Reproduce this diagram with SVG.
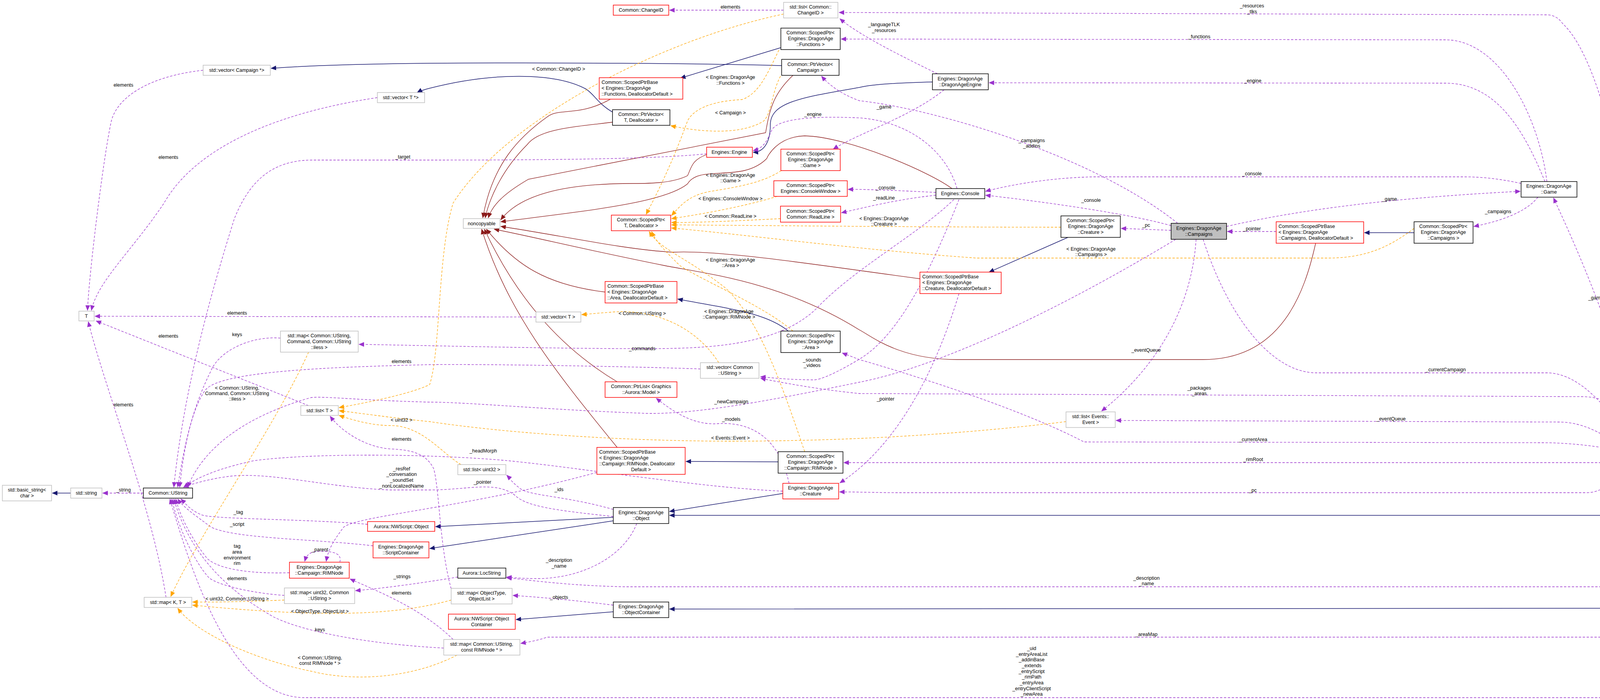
<svg xmlns="http://www.w3.org/2000/svg" width="4277" height="1793" viewBox="0 0 4277 1793">
<style>
text{font-family:"Liberation Sans",Arial,sans-serif;font-size:12.5px;fill:#000}
.c{text-anchor:middle}
.n rect{fill:#fff;stroke-width:1.5}
.blk rect{stroke:#000}
.red rect{stroke:#ff0000}
.gry rect{stroke:#bfbfbf}
.sel rect{fill:#bfbfbf;stroke:#000}
.e path{fill:none}
.pu{stroke:#9a32cd;stroke-width:1.3;stroke-dasharray:6,4;marker-end:url(#mp)}
.or{stroke:#ffa500;stroke-width:1.3;stroke-dasharray:6,4;marker-end:url(#mo)}
.bl{stroke:#191970;stroke-width:1.5;marker-end:url(#mb)}
.br{stroke:#8b1a1a;stroke-width:1.3;marker-end:url(#mr)}
</style>
<defs>
<marker id="mp" markerUnits="userSpaceOnUse" markerWidth="14" markerHeight="12" refX="13" refY="6" orient="auto"><path d="M0,0 L14,6 L0,12 z" fill="#9a32cd"/></marker>
<marker id="mo" markerUnits="userSpaceOnUse" markerWidth="14" markerHeight="12" refX="13" refY="6" orient="auto"><path d="M0,0 L14,6 L0,12 z" fill="#ffa500"/></marker>
<marker id="mb" markerUnits="userSpaceOnUse" markerWidth="14" markerHeight="12" refX="13" refY="6" orient="auto"><path d="M0,0 L14,6 L0,12 z" fill="#191970"/></marker>
<marker id="mr" markerUnits="userSpaceOnUse" markerWidth="14" markerHeight="12" refX="13" refY="6" orient="auto"><path d="M0,0 L14,6 L0,12 z" fill="#8b1a1a"/></marker>
</defs>
<rect width="4277" height="1793" fill="#fff"/>
<g id="edges" class="e">
<path class="bl" d="M2001,168 C1800,162 1400,160 1100,162 C900,164 760,170 694,175"/>
<path class="bl" d="M1568,287 C1530,265 1520,240 1500,228 C1420,185 1260,185 1100,226 C1085,230 1075,233 1068,237"/>
<path class="bl" d="M1999,122 L1742,200"/>
<path class="bl" d="M2387,210 C2300,212 2230,216 2200,224 C2050,250 1972,262 1972,320 C1972,372 1950,390 1928,390"/>
<path class="bl" d="M2018,848 C1960,800 1860,790 1735,766"/>
<path class="bl" d="M2734,608 L2532,697"/>
<path class="bl" d="M3620,596 L3493,596"/>
<path class="bl" d="M1992,1183 L1756,1182"/>
<path class="bl" d="M2004,1264 L1714,1310"/>
<path class="bl" d="M1570,1325 L1115,1349"/>
<path class="bl" d="M1570,1334 L1100,1405"/>
<path class="bl" d="M1570,1567 L1321,1587"/>
<path class="bl" d="M4252,1205 C4230,1280 4200,1320 4150,1320 L1714,1320"/>
<path class="bl" d="M4252,1205 C4240,1450 4220,1558 4180,1558 L1714,1560"/>
<path class="bl" d="M181,1263 L134,1263"/>
<path class="br" d="M1563,254 C1480,300 1430,275 1400,300 C1330,350 1260,420 1236,558"/>
<path class="br" d="M1568,313 C1470,325 1380,330 1350,370 C1290,430 1255,500 1242,558"/>
<path class="br" d="M2030,193 C1980,240 1970,280 1960,340 L1353,459 C1300,490 1262,520 1250,558"/>
<path class="br" d="M1809,396 C1770,410 1770,430 1760,450 C1720,470 1660,470 1620,470 C1440,470 1330,500 1282,563"/>
<path class="br" d="M2437,483 C2380,440 2170,350 2060,348 C1990,350 1965,400 1963,406 C1900,470 1790,420 1760,471 C1700,520 1500,540 1282,568"/>
<path class="br" d="M2355,714 C2100,680 1850,640 1724,646 C1600,640 1420,600 1282,580"/>
<path class="br" d="M1549,748 C1400,730 1320,680 1245,587"/>
<path class="br" d="M1580,978 C1450,900 1330,780 1240,587"/>
<path class="br" d="M1580,1146 C1420,950 1300,800 1233,587"/>
<path class="br" d="M3368,623 C3340,750 3280,921 3080,921 L2450,921 C2300,921 2230,860 2200,845 C2000,720 1800,700 1700,680 C1500,640 1380,610 1265,587"/>
<path class="pu" d="M2006,26 L1714,26"/>
<path class="pu" d="M4238,1164 C4225,900 4150,200 4000,60 C3990,45 3975,38 3960,38 L2148,32"/>
<path class="pu" d="M2400,189 C2300,140 2200,90 2150,48"/>
<path class="pu" d="M3960,465 C3940,300 3840,102 3700,102 L2153,100"/>
<path class="pu" d="M3955,465 C3900,330 3830,213 3700,213 L2532,212"/>
<path class="pu" d="M3015,572 C2800,400 2400,280 2200,258 C2150,240 2120,215 2103,195"/>
<path class="pu" d="M2417,230 C2330,300 2200,340 2133,382"/>
<path class="pu" d="M1809,394 C1700,405 1500,410 1100,410 L800,410 C700,410 640,460 600,560 C540,750 470,1000 445,1248"/>
<path class="pu" d="M520,180 C380,195 300,250 285,310 C265,400 228,700 224,795"/>
<path class="pu" d="M966,250 C700,290 500,380 420,520 C340,640 250,720 234,795"/>
<path class="pu" d="M1372,812 L243,810"/>
<path class="pu" d="M790,1039 L246,822"/>
<path class="pu" d="M425,1530 C390,1300 270,1000 226,824"/>
<path class="pu" d="M718,866 C640,860 560,900 540,950 C490,1050 470,1150 455,1248"/>
<path class="pu" d="M2442,511 C2350,600 2200,680 2100,780 C2000,890 1800,893 1644,893 C1400,893 1100,885 919,882"/>
<path class="pu" d="M1793,945 C1600,938 1200,932 1100,934 C850,940 560,950 525,1000 C490,1050 470,1150 460,1248"/>
<path class="pu" d="M2455,511 C2380,700 2300,860 2200,920 C2150,950 2100,975 2080,973 C2010,972 1980,968 1947,965"/>
<path class="pu" d="M4235,1164 C4200,1060 4120,1016 4050,1016 L2200,1008 C2100,998 2000,980 1947,969"/>
<path class="pu" d="M4180,1164 C4100,1140 4000,1134 3950,1134 L2775,1132 C2600,1040 2300,950 2200,921 L2156,904"/>
<path class="pu" d="M3010,613 C2700,800 2400,940 2200,979 C2000,1020 1800,1060 1661,1059 C1400,1050 1200,1030 1100,1030 C900,1025 810,1012 790,1020 C620,1070 520,1150 480,1248"/>
<path class="pu" d="M2396,493 C2300,488 2230,485 2171,485"/>
<path class="pu" d="M2396,500 C2300,510 2220,530 2154,545"/>
<path class="pu" d="M3894,470 C3850,460 3800,453 3750,453 L2800,453 C2700,455 2600,470 2523,490"/>
<path class="pu" d="M2998,578 C2900,550 2700,520 2523,500"/>
<path class="pu" d="M2998,590 L2870,585"/>
<path class="pu" d="M3267,593 L3142,593"/>
<path class="pu" d="M3140,580 C3400,520 3700,500 3892,490"/>
<path class="pu" d="M3937,505 C3910,540 3850,565 3773,580"/>
<path class="pu" d="M4200,1164 C4160,900 4020,600 3977,507"/>
<path class="pu" d="M3080,613 C3140,800 3250,955 3370,955 L3960,955 C4050,955 4130,1060 4194,1162"/>
<path class="pu" d="M3062,613 C3050,800 2950,950 2820,1053"/>
<path class="pu" d="M4170,1164 C4100,1100 4040,1081 3990,1081 L2857,1077"/>
<path class="pu" d="M4160,1205 C4120,1240 4100,1262 4060,1262 L2300,1262 C2250,1262 2200,1260 2149,1260"/>
<path class="pu" d="M4129,1185 L2160,1185"/>
<path class="pu" d="M2020,1238 C1990,1100 1900,1082 1840,1085 C1780,1090 1730,1060 1680,1020"/>
<path class="pu" d="M2004,1258 C1800,1250 1500,1200 1300,1180 C1100,1162 800,1160 650,1180 C560,1200 510,1220 470,1248"/>
<path class="pu" d="M1528,1210 C1200,1300 920,1320 880,1350 C850,1390 840,1410 835,1438"/>
<path class="pu" d="M870,1440 C875,1420 860,1412 820,1412 C795,1412 785,1420 780,1438"/>
<path class="pu" d="M1570,1305 C1450,1270 1350,1270 1330,1250 C1310,1235 1305,1225 1297,1217"/>
<path class="pu" d="M1570,1323 C1450,1310 1350,1300 1320,1270 C1270,1230 1200,1255 1100,1255 L1000,1255 C850,1250 700,1210 596,1219 C540,1225 490,1240 470,1248"/>
<path class="pu" d="M941,1343 C800,1330 560,1330 520,1320 C490,1310 475,1290 463,1278"/>
<path class="pu" d="M955,1398 C800,1380 600,1380 540,1350 C500,1320 470,1300 455,1278"/>
<path class="pu" d="M741,1467 C650,1470 560,1460 530,1430 C490,1380 460,1320 450,1278"/>
<path class="pu" d="M728,1525 C650,1520 560,1500 535,1480 C490,1430 450,1330 440,1278"/>
<path class="pu" d="M1172,1478 C1100,1490 1000,1505 910,1513"/>
<path class="pu" d="M1630,1341 C1600,1420 1500,1480 1380,1482 C1340,1482 1320,1480 1297,1478"/>
<path class="pu" d="M4220,1205 C4220,1400 4190,1503 4150,1503 L1600,1503 C1450,1500 1350,1485 1297,1480"/>
<path class="pu" d="M1570,1550 C1450,1535 1380,1530 1313,1525"/>
<path class="pu" d="M1155,1508 C1125,1400 1125,1250 1110,1200 C1090,1160 1050,1152 1000,1150 C930,1145 870,1100 845,1066"/>
<path class="pu" d="M1160,1638 C1080,1560 980,1520 896,1483"/>
<path class="pu" d="M1136,1660 C950,1650 780,1620 700,1580 C560,1500 480,1400 445,1278"/>
<path class="pu" d="M4180,1205 C4200,1500 4180,1632 4130,1632 L1400,1632 C1380,1640 1350,1645 1333,1648"/>
<path class="pu" d="M4230,1205 C4210,1600 4180,1787 4120,1787 L780,1787 C600,1787 500,1500 435,1278"/>
<path class="pu" d="M367,1263 L263,1263"/>
<path class="pu" d="M2455,752 C2380,1000 2270,1160 2150,1237"/>
<path class="pu" d="M2450,483 C2420,380 2320,310 2200,302 C2050,295 1985,310 1975,335 C1960,370 1950,380 1928,386"/>
<path class="or" d="M2006,36 C1700,100 1300,300 1160,520 C1120,650 1128,900 1100,985 C1050,1010 920,1035 868,1044"/>
<path class="or" d="M1994,128 C1960,200 1940,240 1900,255 C1800,260 1770,290 1760,310 C1720,420 1680,500 1654,549"/>
<path class="or" d="M1998,195 C1975,240 1975,290 1955,310 C1900,345 1800,340 1717,322"/>
<path class="or" d="M2000,437 C1950,470 1880,480 1820,490 C1760,500 1740,530 1719,552"/>
<path class="or" d="M1990,503 C1900,530 1800,548 1719,560"/>
<path class="or" d="M1998,560 C1900,565 1800,570 1719,570"/>
<path class="or" d="M2716,582 C2400,582 2000,578 1719,576"/>
<path class="or" d="M3620,585 C3560,630 3500,661 3400,661 L2500,661 C2200,640 1900,600 1719,584"/>
<path class="or" d="M2030,848 C1950,780 1800,720 1740,680 C1700,640 1680,620 1668,593"/>
<path class="or" d="M2060,1157 C1990,950 1940,820 1860,740 C1760,660 1690,640 1662,593"/>
<path class="or" d="M1840,929 C1770,820 1650,790 1560,800 C1520,803 1500,805 1489,806"/>
<path class="or" d="M790,902 C700,1100 520,1350 437,1528"/>
<path class="or" d="M1180,1190 C1130,1160 1080,1090 1000,1090 C950,1090 900,1075 868,1064"/>
<path class="or" d="M728,1537 C650,1540 560,1543 493,1542"/>
<path class="or" d="M1155,1537 C1000,1580 800,1580 493,1550"/>
<path class="or" d="M1170,1678 C1050,1740 900,1745 800,1720 C650,1690 500,1620 455,1558"/>
<path class="or" d="M2729,1080 C2400,1120 2100,1130 1870,1130 C1600,1130 1300,1110 1100,1080 C1000,1070 920,1058 868,1052"/>
</g>
<g id="edge-labels" class="c">
<text x="1870" y="22">elements</text>
<text x="1430" y="181">&lt; Common::ChangeID &gt;</text>
<text x="1870" y="202">&lt; Engines::DragonAge</text><text x="1870" y="217">::Functions &gt;</text>
<text x="1870" y="293">&lt; Campaign &gt;</text>
<text x="2081" y="297">_engine</text>
<text x="1870" y="453">&lt; Engines::DragonAge</text><text x="1870" y="467">::Game &gt;</text>
<text x="1870" y="513">&lt; Engines::ConsoleWindow &gt;</text>
<text x="1870" y="558">&lt; Common::ReadLine &gt;</text>
<text x="3205" y="19">_resources</text><text x="3205" y="34">_tlks</text>
<text x="2263" y="67">_languageTLK</text><text x="2263" y="82">_resources</text>
<text x="3070" y="98">_functions</text>
<text x="3207" y="211">_engine</text>
<text x="2263" y="278">_game</text>
<text x="2641" y="364">_campaigns</text><text x="2641" y="378">_addins</text>
<text x="3205" y="449">_console</text>
<text x="2267" y="485">_console</text>
<text x="2263" y="511">_readLine</text>
<text x="2793" y="517">_console</text>
<text x="2263" y="564">&lt; Engines::DragonAge</text><text x="2263" y="578">::Creature &gt;</text>
<text x="2934" y="581">_pc</text>
<text x="3205" y="590">_pointer</text>
<text x="3557" y="514">_game</text>
<text x="3835" y="546">_campaigns</text>
<text x="316" y="222">elements</text>
<text x="431" y="407">elements</text>
<text x="1031" y="406">_target</text>
<text x="607" y="806">elements</text>
<text x="431" y="865">elements</text>
<text x="607" y="861">keys</text>
<text x="1028" y="930">elements</text>
<text x="607" y="998">&lt; Common::UString,</text><text x="607" y="1012">Command, Common::UString</text><text x="607" y="1026">::iless &gt;</text>
<text x="316" y="1041">elements</text>
<text x="1028" y="1080">&lt; uint32 &gt;</text>
<text x="1028" y="1129">elements</text>
<text x="1870" y="670">&lt; Engines::DragonAge</text><text x="1870" y="684">::Area &gt;</text>
<text x="1644" y="807">&lt; Common::UString &gt;</text>
<text x="1866" y="802">&lt; Engines::DragonAge</text><text x="1866" y="816">::Campaign::RIMNode &gt;</text>
<text x="1644" y="897">_commands</text>
<text x="2079" y="926">_sounds</text><text x="2079" y="940">_videos</text>
<text x="1872" y="1033">_newCampaign</text>
<text x="1872" y="1078">_models</text>
<text x="1870" y="1126">&lt; Events::Event &gt;</text>
<text x="1237" y="1159">_headMorph</text>
<text x="2793" y="642">&lt; Engines::DragonAge</text><text x="2793" y="656">::Campaigns &gt;</text>
<text x="2934" y="901">_eventQueue</text>
<text x="2267" y="1026">_pointer</text>
<text x="3070" y="998">_packages</text><text x="3070" y="1012">_areas</text>
<text x="3208" y="1130">_currentArea</text>
<text x="3208" y="1181">_rimRoot</text>
<text x="4085" y="767">_game</text>
<text x="3701" y="951">_currentCampaign</text>
<text x="3561" y="1077">_eventQueue</text>
<text x="1028" y="1205">_resRef</text><text x="1028" y="1219">_conversation</text><text x="1028" y="1234">_soundSet</text><text x="1028" y="1249">_nonLocalizedName</text>
<text x="316" y="1259">_string</text>
<text x="610" y="1316">_tag</text>
<text x="607" y="1347">_script</text>
<text x="607" y="1403">tag</text><text x="607" y="1418">area</text><text x="607" y="1433">environment</text><text x="607" y="1447">rim</text>
<text x="819" y="1412">_parent</text>
<text x="607" y="1486">elements</text>
<text x="1029" y="1481">_strings</text>
<text x="1028" y="1523">elements</text>
<text x="607" y="1538">&lt; uint32, Common::UString &gt;</text>
<text x="819" y="1570">&lt; ObjectType, ObjectList &gt;</text>
<text x="819" y="1617">keys</text>
<text x="819" y="1689">&lt; Common::UString,</text><text x="819" y="1703">const RIMNode * &gt;</text>
<text x="1235" y="1239">_pointer</text>
<text x="1431" y="1258">_ids</text>
<text x="1431" y="1439">_description</text><text x="1431" y="1454">_name</text>
<text x="1431" y="1534">_objects</text>
<text x="3207" y="1260">_pc</text>
<text x="2935" y="1485">_description</text><text x="2935" y="1499">_name</text>
<text x="2935" y="1629">_areaMap</text>
<text x="2641" y="1665">_uid</text><text x="2641" y="1680">_entryAreaList</text><text x="2641" y="1694">_addinBase</text><text x="2641" y="1709">_extends</text><text x="2641" y="1724">_entryScript</text><text x="2641" y="1738">_rimPath</text><text x="2641" y="1753">_entryArea</text><text x="2641" y="1768">_entryClientScript</text><text x="2641" y="1782">_newArea</text>
</g>
<g id="n-ChangeID" class="n red"><rect x="1570" y="13" width="142" height="26"/><text class="c" x="1641" y="30">Common::ChangeID</text></g>
<g id="n-listChangeID" class="n gry"><rect x="2006" y="6" width="139" height="40"/><text class="c" x="2075" y="22">std::list&lt; Common::</text><text class="c" x="2075" y="37">ChangeID &gt;</text></g>
<g id="n-SPFunctions" class="n blk"><rect x="1999" y="72" width="152" height="55"/><text class="c" x="2075" y="88">Common::ScopedPtr&lt;</text><text class="c" x="2075" y="103">Engines::DragonAge</text><text class="c" x="2075" y="118">::Functions &gt;</text></g>
<g id="n-vecCampaign" class="n gry"><rect x="520" y="167" width="172" height="26"/><text class="c" x="606" y="184">std::vector&lt; Campaign *&gt;</text></g>
<g id="n-PVCampaign" class="n blk"><rect x="2001" y="152" width="147" height="41"/><text class="c" x="2074" y="169">Common::PtrVector&lt;</text><text class="c" x="2074" y="184">Campaign &gt;</text></g>
<g id="n-DAEngine" class="n blk"><rect x="2387" y="189" width="143" height="41"/><text class="c" x="2458" y="206">Engines::DragonAge</text><text class="c" x="2458" y="221">::DragonAgeEngine</text></g>
<g id="n-SPBFunctions" class="n red"><rect x="1534" y="199" width="214" height="55"/><text x="1540" y="215">Common::ScopedPtrBase</text><text x="1540" y="230">&lt; Engines::DragonAge</text><text x="1540" y="245">::Functions, DeallocatorDefault &gt;</text></g>
<g id="n-vecTptr" class="n gry"><rect x="966" y="237" width="121" height="26"/><text class="c" x="1026" y="254">std::vector&lt; T *&gt;</text></g>
<g id="n-PVT" class="n blk"><rect x="1568" y="281" width="147" height="40"/><text class="c" x="1641" y="297">Common::PtrVector&lt;</text><text class="c" x="1641" y="312">T, Deallocator &gt;</text></g>
<g id="n-Engine" class="n red"><rect x="1809" y="377" width="117" height="26"/><text class="c" x="1867" y="394">Engines::Engine</text></g>
<g id="n-SPGame" class="n red"><rect x="1999" y="382" width="152" height="55"/><text class="c" x="2075" y="398">Common::ScopedPtr&lt;</text><text class="c" x="2075" y="413">Engines::DragonAge</text><text class="c" x="2075" y="428">::Game &gt;</text></g>
<g id="n-Game" class="n blk"><rect x="3894" y="465" width="143" height="40"/><text class="c" x="3965" y="481">Engines::DragonAge</text><text class="c" x="3965" y="496">::Game</text></g>
<g id="n-SPConsoleWindow" class="n red"><rect x="1981" y="463" width="188" height="40"/><text class="c" x="2075" y="479">Common::ScopedPtr&lt;</text><text class="c" x="2075" y="494">Engines::ConsoleWindow &gt;</text></g>
<g id="n-Console" class="n blk"><rect x="2396" y="483" width="125" height="26"/><text class="c" x="2458" y="500">Engines::Console</text></g>
<g id="n-SPReadLine" class="n red"><rect x="1998" y="528" width="154" height="41"/><text class="c" x="2075" y="545">Common::ScopedPtr&lt;</text><text class="c" x="2075" y="560">Common::ReadLine &gt;</text></g>
<g id="n-noncopyable" class="n gry"><rect x="1186" y="560" width="94" height="25"/><text class="c" x="1233" y="577">noncopyable</text></g>
<g id="n-SPT" class="n red"><rect x="1565" y="551" width="152" height="40"/><text class="c" x="1641" y="567">Common::ScopedPtr&lt;</text><text class="c" x="1641" y="582">T, Deallocator &gt;</text></g>
<g id="n-SPCreature" class="n blk"><rect x="2716" y="553" width="152" height="55"/><text class="c" x="2792" y="569">Common::ScopedPtr&lt;</text><text class="c" x="2792" y="584">Engines::DragonAge</text><text class="c" x="2792" y="599">::Creature &gt;</text></g>
<g id="n-Campaigns" class="n sel"><rect x="2998" y="572" width="142" height="41"/><text class="c" x="3069" y="589">Engines::DragonAge</text><text class="c" x="3069" y="604">::Campaigns</text></g>
<g id="n-SPBCampaigns" class="n red"><rect x="3267" y="568" width="224" height="55"/><text x="3273" y="584">Common::ScopedPtrBase</text><text x="3273" y="599">&lt; Engines::DragonAge</text><text x="3273" y="614">::Campaigns, DeallocatorDefault &gt;</text></g>
<g id="n-SPCampaigns" class="n blk"><rect x="3620" y="568" width="151" height="55"/><text class="c" x="3695" y="584">Common::ScopedPtr&lt;</text><text class="c" x="3695" y="599">Engines::DragonAge</text><text class="c" x="3695" y="614">::Campaigns &gt;</text></g>
<g id="n-SPBCreature" class="n red"><rect x="2355" y="697" width="208" height="55"/><text x="2361" y="713">Common::ScopedPtrBase</text><text x="2361" y="728">&lt; Engines::DragonAge</text><text x="2361" y="743">::Creature, DeallocatorDefault &gt;</text></g>
<g id="n-SPBArea" class="n red"><rect x="1549" y="721" width="184" height="55"/><text x="1555" y="737">Common::ScopedPtrBase</text><text x="1555" y="752">&lt; Engines::DragonAge</text><text x="1555" y="767">::Area, DeallocatorDefault &gt;</text></g>
<g id="n-T" class="n gry"><rect x="202" y="797" width="39" height="25"/><text class="c" x="221" y="814">T</text></g>
<g id="n-vectorT" class="n gry"><rect x="1372" y="799" width="115" height="26"/><text class="c" x="1429" y="816">std::vector&lt; T &gt;</text></g>
<g id="n-mapUSC" class="n gry"><rect x="718" y="848" width="199" height="54"/><text class="c" x="817" y="864">std::map&lt; Common::UString,</text><text class="c" x="817" y="879">Command, Common::UString</text><text class="c" x="817" y="894">::iless &gt;</text></g>
<g id="n-SPArea" class="n blk"><rect x="1999" y="848" width="152" height="55"/><text class="c" x="2075" y="864">Common::ScopedPtr&lt;</text><text class="c" x="2075" y="879">Engines::DragonAge</text><text class="c" x="2075" y="894">::Area &gt;</text></g>
<g id="n-vectorUString" class="n gry"><rect x="1793" y="929" width="150" height="40"/><text class="c" x="1868" y="945">std::vector&lt; Common</text><text class="c" x="1868" y="960">::UString &gt;</text></g>
<g id="n-PtrListModel" class="n red"><rect x="1549" y="978" width="184" height="40"/><text class="c" x="1641" y="994">Common::PtrList&lt; Graphics</text><text class="c" x="1641" y="1009">::Aurora::Model &gt;</text></g>
<g id="n-listT" class="n gry"><rect x="770" y="1039" width="96" height="25"/><text class="c" x="818" y="1056">std::list&lt; T &gt;</text></g>
<g id="n-listEvent" class="n gry"><rect x="2729" y="1055" width="126" height="40"/><text class="c" x="2792" y="1071">std::list&lt; Events::</text><text class="c" x="2792" y="1086">Event &gt;</text></g>
<g id="n-SPBRIMNode" class="n red"><rect x="1528" y="1146" width="226" height="69"/><text x="1534" y="1162">Common::ScopedPtrBase</text><text x="1534" y="1177">&lt; Engines::DragonAge</text><text x="1534" y="1192">::Campaign::RIMNode, Deallocator</text><text class="c" x="1641" y="1207">Default &gt;</text></g>
<g id="n-SPRIMNode" class="n blk"><rect x="1992" y="1157" width="166" height="55"/><text class="c" x="2075" y="1173">Common::ScopedPtr&lt;</text><text class="c" x="2075" y="1188">Engines::DragonAge</text><text class="c" x="2075" y="1203">::Campaign::RIMNode &gt;</text></g>
<g id="n-Campaign" class="n blk"><rect x="4129" y="1164" width="142" height="41"/><text class="c" x="4200" y="1181">Engines::DragonAge</text><text class="c" x="4200" y="1196">::Campaign</text></g>
<g id="n-listUint32" class="n gry"><rect x="1172" y="1190" width="123" height="26"/><text class="c" x="1233" y="1207">std::list&lt; uint32 &gt;</text></g>
<g id="n-Creature" class="n red"><rect x="2004" y="1238" width="143" height="40"/><text class="c" x="2075" y="1254">Engines::DragonAge</text><text class="c" x="2075" y="1269">::Creature</text></g>
<g id="n-basicString" class="n gry"><rect x="6" y="1243" width="126" height="40"/><text class="c" x="69" y="1259">std::basic_string&lt;</text><text class="c" x="69" y="1274">char &gt;</text></g>
<g id="n-string" class="n gry"><rect x="181" y="1250" width="80" height="26"/><text class="c" x="221" y="1267">std::string</text></g>
<g id="n-UString" class="n blk"><rect x="367" y="1250" width="126" height="26"/><text class="c" x="430" y="1267">Common::UString</text></g>
<g id="n-Object" class="n blk"><rect x="1570" y="1300" width="142" height="41"/><text class="c" x="1641" y="1317">Engines::DragonAge</text><text class="c" x="1641" y="1332">::Object</text></g>
<g id="n-NWScriptObject" class="n red"><rect x="941" y="1336" width="172" height="25"/><text class="c" x="1027" y="1353">Aurora::NWScript::Object</text></g>
<g id="n-ScriptContainer" class="n red"><rect x="955" y="1388" width="143" height="41"/><text class="c" x="1026" y="1405">Engines::DragonAge</text><text class="c" x="1026" y="1420">::ScriptContainer</text></g>
<g id="n-RIMNode" class="n red"><rect x="741" y="1440" width="153" height="41"/><text class="c" x="817" y="1457">Engines::DragonAge</text><text class="c" x="817" y="1472">::Campaign::RIMNode</text></g>
<g id="n-LocString" class="n blk"><rect x="1172" y="1455" width="123" height="26"/><text class="c" x="1233" y="1472">Aurora::LocString</text></g>
<g id="n-mapU32" class="n gry"><rect x="728" y="1506" width="180" height="40"/><text class="c" x="818" y="1522">std::map&lt; uint32, Common</text><text class="c" x="818" y="1537">::UString &gt;</text></g>
<g id="n-mapObjType" class="n gry"><rect x="1155" y="1507" width="156" height="40"/><text class="c" x="1233" y="1523">std::map&lt; ObjectType,</text><text class="c" x="1233" y="1538">ObjectList &gt;</text></g>
<g id="n-mapKT" class="n gry"><rect x="369" y="1530" width="122" height="26"/><text class="c" x="430" y="1547">std::map&lt; K, T &gt;</text></g>
<g id="n-ObjContainer" class="n blk"><rect x="1570" y="1542" width="142" height="40"/><text class="c" x="1641" y="1558">Engines::DragonAge</text><text class="c" x="1641" y="1573">::ObjectContainer</text></g>
<g id="n-NWSObjContainer" class="n red"><rect x="1148" y="1573" width="171" height="39"/><text class="c" x="1233" y="1589">Aurora::NWScript::Object</text><text class="c" x="1233" y="1604">Container</text></g>
<g id="n-mapURIM" class="n gry"><rect x="1136" y="1638" width="195" height="40"/><text class="c" x="1233" y="1654">std::map&lt; Common::UString,</text><text class="c" x="1233" y="1669">const RIMNode * &gt;</text></g>
</svg>
